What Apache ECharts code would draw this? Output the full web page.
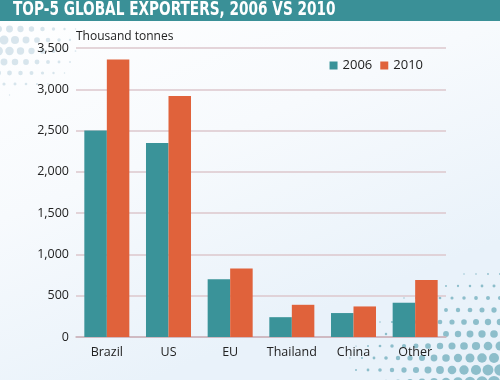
<!DOCTYPE html>
<html><head><meta charset="utf-8">
<script src="https://cdn.jsdelivr.net/npm/echarts@6/dist/echarts.min.js"></script>
<style>html,body{margin:0;padding:0;background:#fff}#c{width:500px;height:380px}</style>
</head><body><div id="c"></div>
<script>
const title = "TOP-5 GLOBAL EXPORTERS, 2006 VS 2010";
const unitLabel = "Thousand tonnes";
const categories = ["Brazil", "US", "EU", "Thailand", "China", "Other"];
const seriesNames = ["2006", "2010"];
const values2006 = [2500, 2350, 700, 240, 290, 415];
const values2010 = [3360, 2920, 830, 390, 370, 690];
const yTicks = [0, 500, 1000, 1500, 2000, 2500, 3000, 3500];

const chart = echarts.init(document.getElementById('c'), null, {renderer: 'canvas'});

// decorative halftone dots
const deco = [];
function dotField(cx, cy, rx, ry, maxR, step, color) {
  for (let y = cy - ry; y <= cy + ry; y += step) {
    const row = Math.round((y - cy) / step);
    for (let x = cx - rx; x <= cx + rx; x += step) {
      const px = x + (row % 2 ? step / 2 : 0);
      const dx = (px - cx) / rx, dy = (y - cy) / ry;
      const d = Math.sqrt(dx * dx + dy * dy);
      if (d < 1) {
        const r = maxR * Math.pow(1 - d, 1.1);
        if (r > 0.6) deco.push({type: 'circle', silent: true, z: -10,
          shape: {cx: px, cy: y, r: r}, style: {fill: color}});
      }
    }
  }
}
dotField(520, 400, 200, 150, 7.5, 12, 'rgba(80,155,172,0.6)');
dotField(0, 45, 95, 60, 5, 11, 'rgba(170,200,215,0.45)');

const opt = {
  animation: false,
  backgroundColor: {type: 'linear', x: 0, y: 0, x2: 0.3, y2: 1,
    colorStops: [{offset: 0, color: '#ffffff'}, {offset: 0.5, color: '#f7fafd'}, {offset: 1, color: '#e9f2fa'}]},
  graphic: [
    {type: 'rect', shape: {x: 0, y: 0, width: 500, height: 21}, style: {fill: '#3a9097'}, z: 10},
    {type: 'text', x: 13, y: 1, scaleX: 0.8, z: 11, style: {text: title, fill: '#ffffff',
      font: 'bold 19px "DejaVu Sans Condensed", "DejaVu Sans", sans-serif'}},
    {type: 'text', left: 76, top: 31, z: 11, style: {text: unitLabel, fill: '#222',
      font: '12px "Open Sans", "DejaVu Sans", sans-serif'}},
    ...deco
  ],
  legend: {
    data: seriesNames, right: 72, top: 54, itemWidth: 8, itemHeight: 8, itemGap: 8,
    icon: 'rect', textStyle: {fontSize: 13, color: '#222', fontFamily: '"Open Sans", sans-serif'}
  },
  grid: {left: 76, right: 54, top: 48, bottom: 43},
  xAxis: {
    type: 'category', data: categories,
    axisLine: {lineStyle: {color: '#c9b3ba', width: 1.5}},
    axisTick: {show: false},
    axisLabel: {interval: 0, color: '#222', fontSize: 12.5, margin: 9, fontFamily: '"Open Sans", sans-serif'}
  },
  yAxis: {
    type: 'value', min: 0, max: 3500, interval: 500,
    axisLine: {show: false}, axisTick: {show: false},
    splitLine: {lineStyle: {color: '#dcc7cd', width: 1.5}},
    axisLabel: {color: '#222', fontSize: 12.5, margin: 7, fontFamily: '"Open Sans", sans-serif',
      formatter: v => yTicks.includes(v) ? v.toLocaleString('en-US') : ''}
  },
  series: [
    {name: seriesNames[0], type: 'bar', data: values2006, barGap: '0%', barCategoryGap: '27%',
     itemStyle: {color: '#3a9399'}},
    {name: seriesNames[1], type: 'bar', data: values2010, barGap: '0%', barCategoryGap: '27%',
     itemStyle: {color: '#e0623b'}}
  ]
};
chart.setOption(opt);
</script></body></html>
